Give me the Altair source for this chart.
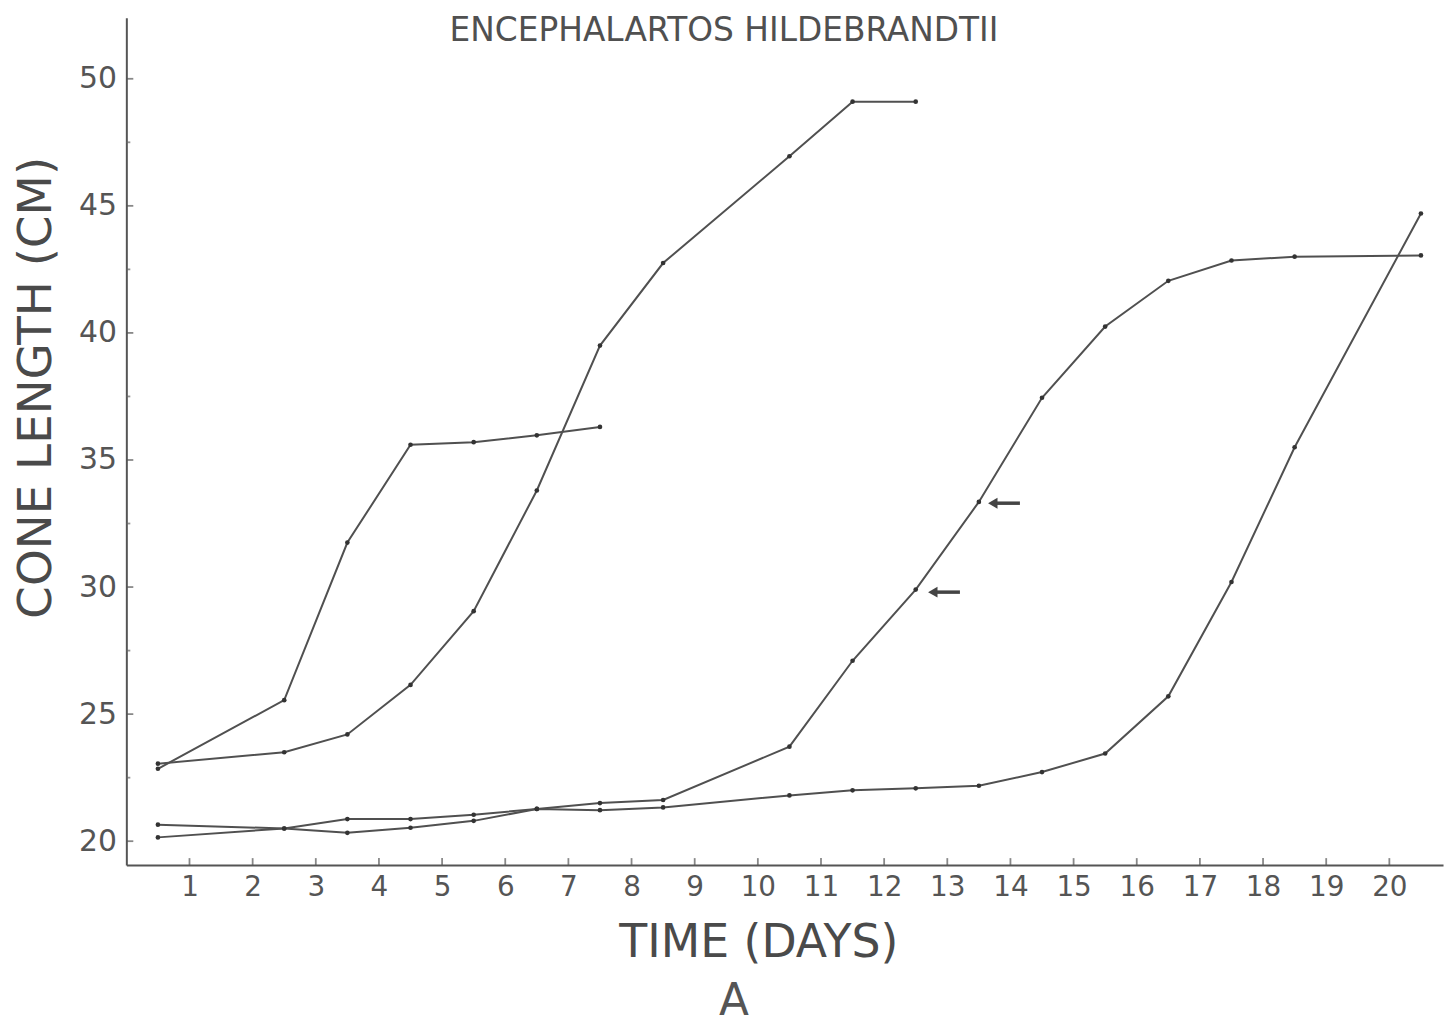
import altair as alt
import pandas as pd

# ---- text ----
title_text = "ENCEPHALARTOS HILDEBRANDTII"
x_title_text = "TIME (DAYS)"
y_title_text = "CONE LENGTH (CM)"
panel_text = "A"

# ---- tick values ----
x_tick_values = list(range(1, 21))
y_tick_values = [20, 25, 30, 35, 40, 45, 50]
y_minor_values = [22.5, 27.5, 32.5, 37.5, 42.5, 47.5]

# ---- series (day, cone length cm) ----
days_1 = [0.5, 2.5, 3.5, 4.5, 5.5, 6.5, 7.5]
len_1 = [22.85, 25.55, 31.75, 35.6, 35.7, 35.97, 36.3]

days_2 = [0.5, 2.5, 3.5, 4.5, 5.5, 6.5, 7.5, 8.5, 10.5, 11.5, 12.5]
len_2 = [23.05, 23.5, 24.2, 26.15, 29.05, 33.8, 39.5, 42.75, 46.95, 49.1, 49.1]

days_3 = [0.5, 2.5, 3.5, 4.5, 5.5, 6.5, 7.5, 8.5, 10.5, 11.5, 12.5, 13.5,
          14.5, 15.5, 16.5, 17.5, 18.5, 20.5]
len_3 = [20.15, 20.5, 20.87, 20.87, 21.04, 21.27, 21.5, 21.62, 23.72, 27.1,
         29.9, 33.35, 37.45, 40.25, 42.05, 42.85, 43.0, 43.05]

days_4 = [0.5, 2.5, 3.5, 4.5, 5.5, 6.5, 7.5, 8.5, 10.5, 11.5, 12.5, 13.5,
          14.5, 15.5, 16.5, 17.5, 18.5, 20.5]
len_4 = [20.65, 20.5, 20.33, 20.53, 20.8, 21.27, 21.22, 21.33, 21.8, 22.0,
         22.08, 22.18, 22.72, 23.45, 25.7, 30.2, 35.5, 44.7]

# ---- arrow annotations ----
arrow_y = [33.3, 29.8]
arrow_head_x = [13.72, 12.77]
arrow_tail_x = [14.15, 13.2]

rows = []
for name, dd, ll in [("a", days_1, len_1), ("b", days_2, len_2),
                     ("c", days_3, len_3), ("d", days_4, len_4)]:
    for d, l in zip(dd, ll):
        rows.append({"series": name, "day": d, "length": l})
df = pd.DataFrame(rows)

arrows = pd.DataFrame({"day": arrow_head_x, "day2": arrow_tail_x, "length": arrow_y})
xt = pd.DataFrame({"day": x_tick_values})
yt = pd.DataFrame({"length": y_tick_values})
ym = pd.DataFrame({"length": y_minor_values})

W, H = 1324, 852
FONT = "DejaVu Sans"
INK = "#505050"

xscale = alt.Scale(domain=[0, 20.85], nice=False, zero=False)
yscale = alt.Scale(domain=[19.06, 52.4], nice=False, zero=False)

lines = alt.Chart(df).mark_line(color=INK, strokeWidth=2).encode(
    x=alt.X("day:Q", scale=xscale, title=None,
            axis=alt.Axis(values=x_tick_values, format="d", ticks=False, grid=False,
                          domainColor="#555", domainWidth=2,
                          labelFont=FONT, labelFontSize=28, labelColor="#555",
                          labelPadding=9)),
    y=alt.Y("length:Q", scale=yscale, title=None,
            axis=alt.Axis(values=y_tick_values, format="d", ticks=False, grid=False,
                          domainColor="#555", domainWidth=2,
                          labelFont=FONT, labelFontSize=30, labelColor="#555",
                          labelPadding=10)),
    detail="series:N",
    order="day:Q",
)

points = alt.Chart(df).mark_circle(size=22, color="#333", opacity=1).encode(
    x=alt.X("day:Q", title=None), y=alt.Y("length:Q", title=None)
)

xticks = alt.Chart(xt).mark_tick(orient="vertical", size=7, thickness=1.8, color="#555").encode(
    x=alt.X("day:Q", title=None), y=alt.value(H - 3.5)
)
yticks = alt.Chart(yt).mark_tick(orient="horizontal", size=7, thickness=1.8, color="#555").encode(
    y=alt.Y("length:Q", title=None), x=alt.value(3.5)
)
yminor = alt.Chart(ym).mark_tick(orient="horizontal", size=4, thickness=1.8, color="#666").encode(
    y=alt.Y("length:Q", title=None), x=alt.value(2)
)

arrow_shaft = alt.Chart(arrows).mark_rule(color="#444", strokeWidth=3.5).encode(
    x=alt.X("day:Q", title=None), x2="day2:Q", y=alt.Y("length:Q", title=None)
)
arrow_head = alt.Chart(arrows).mark_point(shape="triangle-left", size=120, filled=True,
                                          color="#444", opacity=1).encode(
    x=alt.X("day:Q", title=None), y=alt.Y("length:Q", title=None)
)

def label(txt, px, py, size, angle=0, baseline="middle", color="#4a4a4a"):
    return alt.Chart(pd.DataFrame({"t": [txt]})).mark_text(
        font=FONT, fontSize=size, angle=angle, align="center", baseline=baseline,
        color=color
    ).encode(text="t:N", x=alt.value(px), y=alt.value(py))

title = label(title_text, 601, 23, 33, baseline="alphabetic", color="#505050")
ytitle = label(y_title_text, -90, 372, 47, angle=270)
xtitle = label(x_title_text, 636, 930, 46)
panel = label(panel_text, 611, 990, 44, color="#555")

chart = alt.layer(
    lines, points, xticks, yticks, yminor, arrow_shaft, arrow_head,
    title, ytitle, xtitle, panel
).properties(
    width=W, height=H,
    autosize=alt.AutoSizeParams(type="none"),
    padding={"left": 119, "top": 7, "right": 5, "bottom": 164},
    background="white",
).configure_view(stroke=None)

chart.save("out.html", embed_options={"renderer": "svg", "actions": False})
